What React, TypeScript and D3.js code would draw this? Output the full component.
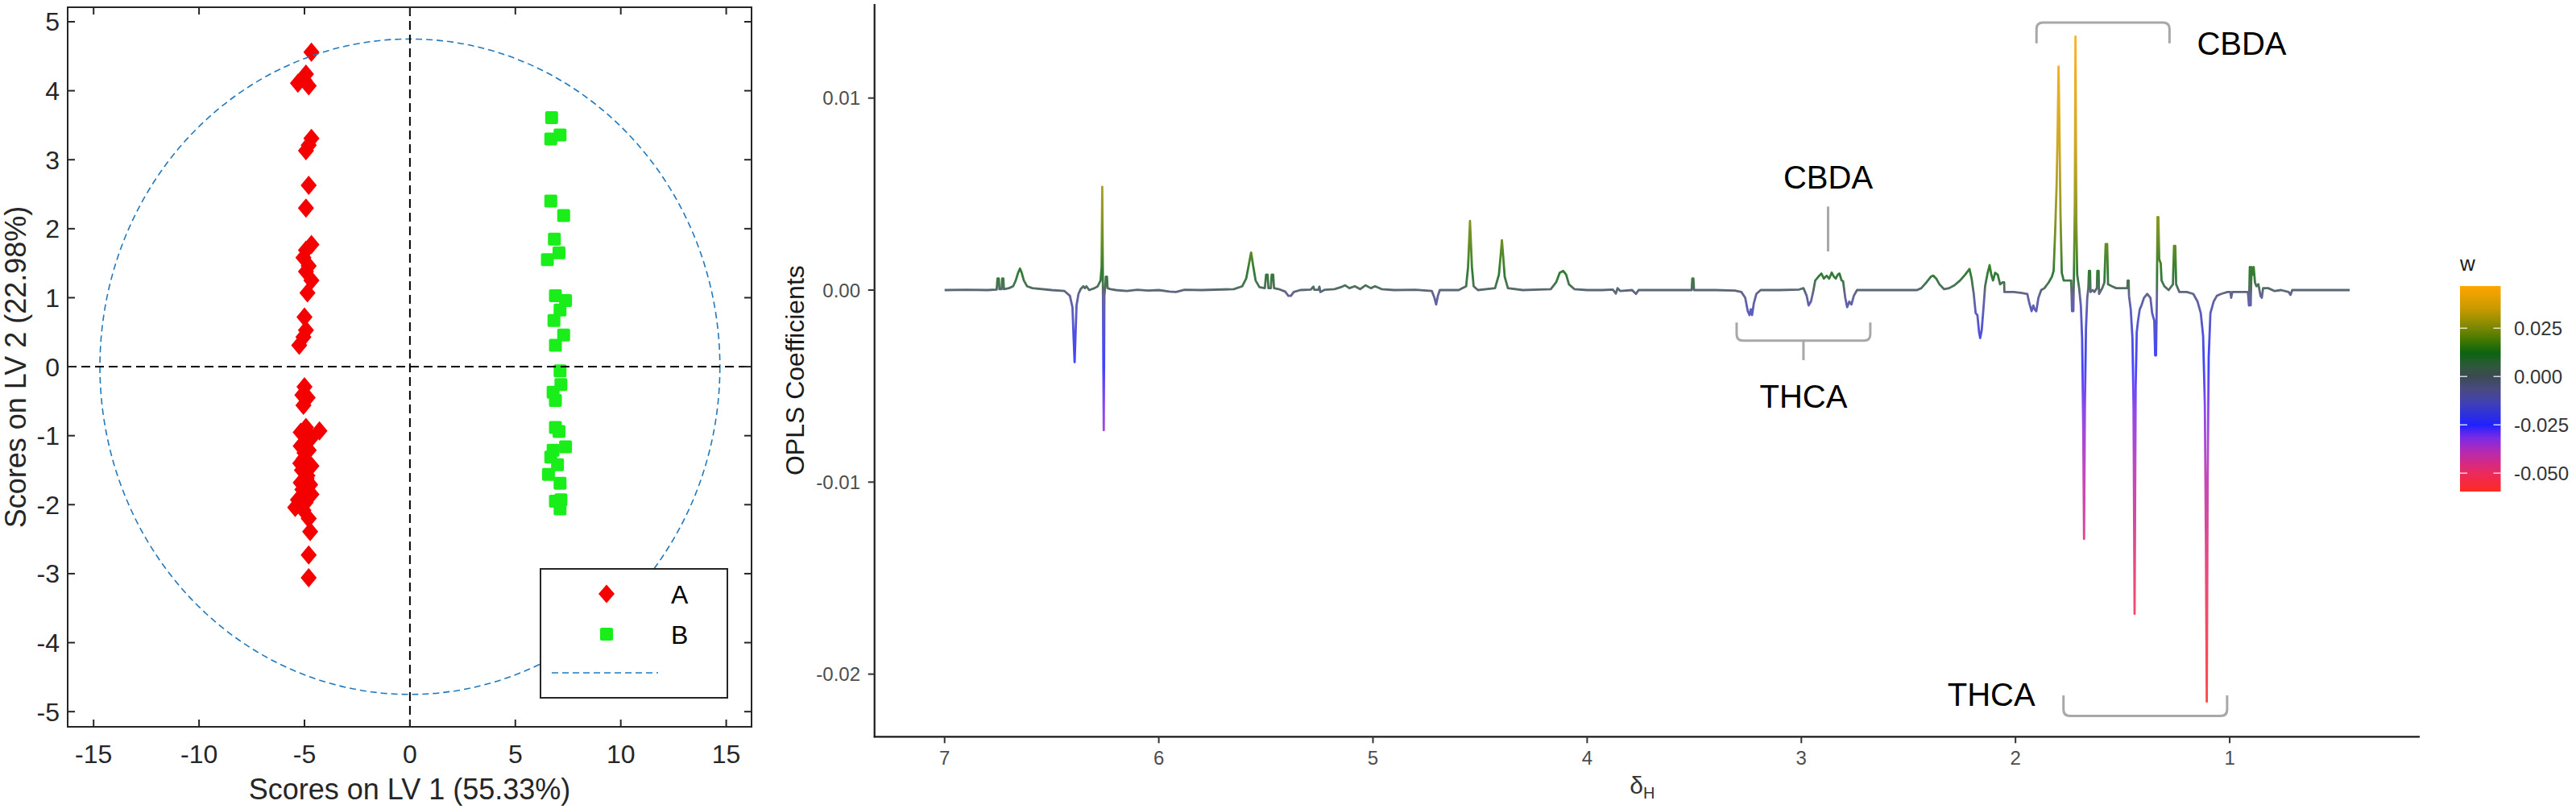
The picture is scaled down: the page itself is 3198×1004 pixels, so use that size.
import React from 'react';
import * as d3 from 'd3';

const FONT = "'Liberation Sans', Arial, Helvetica, sans-serif";

// ---------- Left panel: scores ----------
const scoresAx = [-4.67,-4.93,-5.31,-4.8,-5.0,-4.67,-4.8,-4.93,-4.8,-4.93,-4.67,-4.93,-5.05,-4.8,-4.93,-4.67,-4.86,-5.0,-4.93,-5.05,-5.25,-5.0,-5.1,-5.05,-4.93,-4.29,-5.18,-4.67,-5.18,-4.8,-5.05,-4.67,-5.12,-4.86,-5.18,-4.73,-5.0,-4.67,-5.31,-5.44,-5.05,-4.8,-4.73,-4.8,-4.8,-4.95,-5.0,-4.9,-5.1,-4.95,-5.2,-4.85];
const scoresAy = [4.56,4.24,4.11,4.07,4.15,3.31,3.21,3.13,2.63,2.30,1.77,1.69,1.58,1.46,1.38,1.25,1.07,0.72,0.53,0.43,0.31,-0.29,-0.41,-0.56,-0.88,-0.93,-0.95,-1.03,-1.15,-1.21,-1.34,-1.44,-1.50,-1.58,-1.68,-1.71,-1.81,-1.85,-1.93,-2.04,-2.08,-2.20,-2.39,-2.73,-3.06,-1.0,-1.25,-1.62,-1.78,-1.97,-1.4,-0.45];
const scoresBx = [6.72,6.68,7.12,6.68,7.29,6.85,7.07,6.52,6.90,7.38,7.12,6.83,7.29,6.90,7.12,7.16,6.79,6.90,6.90,7.07,7.38,6.79,6.68,7.0,6.57,7.12,7.16,6.9,7.12];
const scoresBy = [3.61,3.30,3.36,2.40,2.19,1.85,1.65,1.55,1.03,0.96,0.82,0.67,0.46,0.31,-0.06,-0.26,-0.37,-0.49,-0.88,-0.94,-1.16,-1.21,-1.31,-1.42,-1.56,-1.69,-1.93,-1.95,-2.06];
const scoreXTicks = [-15, -10, -5, 0, 5, 10, 15];
const scoreYTicks = [5, 4, 3, 2, 1, 0, -1, -2, -3, -4, -5];
const ellipseRadii = [14.7, 4.75];
const legendLabels = ['A', 'B'];

// ---------- Right panel: OPLS coefficients ----------
const shifts = [7.000,6.900,6.800,6.757,6.753,6.747,6.744,6.734,6.731,6.726,6.723,6.700,6.680,6.668,6.657,6.648,6.640,6.630,6.615,6.590,6.500,6.440,6.415,6.403,6.398,6.393,6.389,6.384,6.375,6.365,6.352,6.345,6.338,6.325,6.300,6.285,6.272,6.267,6.264,6.261,6.257,6.254,6.250,6.247,6.242,6.239,6.225,6.200,6.150,6.100,6.050,6.000,5.950,5.920,5.880,5.800,5.650,5.610,5.592,5.580,5.569,5.560,5.548,5.530,5.505,5.499,5.492,5.488,5.477,5.473,5.466,5.462,5.440,5.410,5.395,5.383,5.370,5.340,5.290,5.278,5.274,5.255,5.250,5.246,5.225,5.180,5.150,5.130,5.110,5.085,5.060,5.035,5.010,4.990,4.960,4.900,4.800,4.725,4.713,4.705,4.697,4.688,4.600,4.565,4.556,4.550,4.547,4.544,4.538,4.530,4.510,4.430,4.412,4.403,4.398,4.393,4.385,4.370,4.300,4.170,4.145,4.128,4.112,4.098,4.085,4.060,4.000,3.930,3.880,3.866,3.858,3.845,3.790,3.772,3.760,3.600,3.512,3.509,3.504,3.501,3.400,3.310,3.280,3.262,3.250,3.242,3.236,3.230,3.222,3.210,3.190,3.100,3.010,2.990,2.975,2.966,2.955,2.945,2.935,2.920,2.906,2.895,2.882,2.870,2.858,2.848,2.839,2.830,2.822,2.812,2.805,2.795,2.786,2.776,2.766,2.755,2.740,2.600,2.460,2.440,2.416,2.395,2.384,2.370,2.355,2.334,2.310,2.285,2.259,2.235,2.215,2.205,2.195,2.186,2.178,2.170,2.165,2.158,2.150,2.142,2.130,2.121,2.113,2.105,2.095,2.083,2.072,2.060,2.053,2.052,2.030,2.008,1.970,1.945,1.935,1.925,1.917,1.911,1.903,1.893,1.880,1.865,1.845,1.830,1.822,1.815,1.808,1.803,1.799,1.795,1.790,1.784,1.775,1.758,1.740,1.736,1.730,1.727,1.723,1.720,1.716,1.712,1.703,1.695,1.689,1.684,1.680,1.676,1.671,1.665,1.660,1.657,1.652,1.650,1.640,1.632,1.620,1.618,1.612,1.610,1.595,1.585,1.579,1.572,1.568,1.550,1.530,1.505,1.478,1.476,1.472,1.470,1.462,1.454,1.449,1.444,1.439,1.434,1.428,1.420,1.412,1.400,1.385,1.370,1.362,1.352,1.348,1.344,1.340,1.337,1.333,1.329,1.322,1.318,1.305,1.285,1.265,1.260,1.254,1.250,1.235,1.200,1.170,1.150,1.135,1.124,1.116,1.111,1.107,1.103,1.098,1.090,1.075,1.060,1.040,1.010,0.997,0.993,0.988,0.960,0.930,0.915,0.910,0.906,0.902,0.898,0.893,0.888,0.882,0.875,0.866,0.856,0.850,0.844,0.820,0.790,0.760,0.725,0.716,0.708,0.650,0.440];
const coefs = [0,0.00002,0,0.00003,0.0006,0.0006,0.00005,0.00005,0.0006,0.0006,0.00005,0.0001,0.0002,0.0005,0.0009,0.00112,0.0009,0.0005,0.0002,0.0001,0,-0.00005,-0.0003,-0.0009,-0.0024,-0.00375,-0.0024,-0.0008,-0.0002,0.00005,0.0002,0.0001,0.0002,0,0.0001,0.0002,0.0005,0.0012,0.00538,0.0004,-0.0073,-0.0003,0.0002,0.0007,0.0007,0.0001,0.00005,0,-0.00005,0.00002,-0.00003,0,-0.00008,-0.0001,0.00002,0,0.00005,0.0002,0.0006,0.0013,0.00196,0.0013,0.0005,0.00015,0.0001,0.0008,0.0008,0.0001,0.0001,0.0008,0.0008,0.0001,0.00005,-0.00008,-0.0003,-0.0003,-0.0001,0,0.00003,0.00018,0.00002,0.00002,0.00018,-0.0001,0.00002,0.00005,0.00015,0.00025,0.0001,0.0002,0.00005,0.00025,0.0001,0.0002,0.00005,0,0.00002,-0.00005,-0.0004,-0.00075,-0.0003,0,0,0.0002,0.0012,0.0028,0.0036,0.0028,0.0012,0.0002,0,0.0001,0.0008,0.0019,0.0026,0.0019,0.0007,0.0001,0,0.00005,0.0004,0.0009,0.001,0.0008,0.0003,0.00005,0,0,0.00003,-0.00018,0.0001,-0.00005,0,-0.0002,0,0,0,0.0006,0.0006,0,0,-0.00003,-0.0001,-0.0004,-0.0011,-0.0013,-0.001,-0.0013,-0.0007,-0.0002,0,0,0.00003,0.0001,-0.0003,-0.0008,-0.0006,-0.0001,0.0005,0.0007,0.00086,0.0006,0.00075,0.0006,0.00091,0.0007,0.0006,0.0008,0.00086,0.0005,0.00046,-0.0004,-0.00089,-0.0006,-0.00075,-0.0003,0,0,0,0.0001,0.0004,0.0007,0.00075,0.0006,0.0003,0.00005,0.0001,0.00025,0.0005,0.0008,0.0011,0.0006,-0.0002,-0.0012,-0.0013,-0.0022,-0.0025,-0.0021,-0.001,0.0002,0.0009,0.0013,0.0008,0.0005,0.0009,0.0008,0.0003,0.0004,0.0004,-0.0001,-0.0001,-0.0001,-0.00015,-0.0002,-0.0007,-0.0011,-0.0008,-0.001,-0.0011,-0.0004,0,0.0001,0.0004,0.0007,0.001,0.003,0.0055,0.0085,0.01164,0.0085,0.004,0.0009,0.0005,0.0005,0.0005,-0.0011,-0.0011,0.001,0.0045,0.0132,0.0035,0.0008,0.0001,-0.0008,-0.0025,-0.007,-0.01296,-0.006,-0.002,-0.0004,0.0001,0.001,0.001,-0.0001,0,-0.0001,0.0001,0.001,0.001,-0.0002,0.0001,0.0004,0.0024,0.0024,0.0003,0.0002,0.0001,0.0001,0.0001,0.0005,0.0005,-0.0003,-0.001,-0.0025,-0.006,-0.01686,-0.005,-0.0022,-0.0016,-0.001,-0.0008,-0.0004,-0.0002,-0.0004,-0.0012,-0.0016,-0.0034,-0.0034,-0.0004,0.0038,0.0038,0.0016,0.0014,0.0005,0.0002,0,0.0003,0.0023,0.0023,0.0003,-0.0001,-0.0001,-0.0002,-0.0006,-0.0012,-0.0024,-0.006,-0.013,-0.02143,-0.01,-0.0035,-0.0012,-0.0006,-0.0003,-0.0002,-0.0001,-0.0001,-0.0004,-0.0001,-0.0001,-0.0001,-0.0001,-0.0008,0.0012,-0.0008,0.0012,0.0008,0.0012,0.0004,0.0002,0.0003,-0.0003,-0.0004,0.0001,0.0001,-0.00005,0,-0.0001,-0.00025,0,0,0];
const shiftTicks = [7, 6, 5, 4, 3, 2, 1];
const coefTicks = [0.01, 0, -0.01, -0.02];
const coefTickLabels = ['0.01', '0.00', '-0.01', '-0.02'];
const wTicks = [0.025, 0, -0.025, -0.05];
const wTickLabels = ['0.025', '0.000', '-0.025', '-0.050'];
const wStops = [-0.0595, -0.05, -0.0386, -0.0317, -0.025, -0.0136, -0.0067, 0, 0.006, 0.0122, 0.0197, 0.025, 0.035, 0.0468];
const wColors = ['#ff2a22', '#ec2a5c', '#b42ab4', '#7a2ae6', '#1f22ff', '#4040b4', '#4a4a82', '#3c4a52', '#2c5a3a', '#0b640f', '#4a7a00', '#7a8600', '#c89a00', '#ffa500'];

// annotations (data coords of right panel)
const cbdaTopBracket = [1.902, 1.281, 0.01393, 0.01285];
const cbdaMidLabel = [2.875, 0.00529, 0.00435, 0.00201];
const thcaMidBracket = [3.302, 2.678, -0.00263, -0.00169, 2.99, -0.00365, -0.00613];
const thcaLowBracket = [1.776, 1.012, -0.02218, -0.02111];

export default function App() {
  // ---- left scales ----
  const L = { x0: 84, x1: 933, y0: 9, y1: 902 };
  const sx = d3.scaleLinear().domain([-16.23, 16.2]).range([L.x0, L.x1]);
  const sy = d3.scaleLinear().domain([-5.22, 5.21]).range([L.y1, L.y0]);
  const tickLen = 9;
  const red = '#f50000';
  const green = '#1aee1a';
  const ellColor = '#2179bd';

  const diamond = (cx: number, cy: number, hw = 10, hh = 12) =>
    `M${cx},${cy - hh}L${cx + hw},${cy}L${cx},${cy + hh}L${cx - hw},${cy}Z`;

  // ---- right scales ----
  const R = { x0: 1085.7, x1: 3004, y0: 5, y1: 914.3 };
  const rx = d3.scaleLinear().domain([7.3272, 0.1127]).range([R.x0, R.x1]);
  const ry = d3.scaleLinear().domain([-0.02326, 0.014897]).range([R.y1, R.y0]);
  const wColor = d3.scaleLinear<string>().domain(wStops).range(wColors).interpolate(d3.interpolateRgb).clamp(true);
  const wOf = (c: number) => Math.sign(c) * 0.4 * Math.sqrt(Math.abs(c));

  const lineGen = d3.line<number>().x((_, i) => rx(shifts[i])).y((c) => ry(c));
  const specPath = lineGen(coefs) || '';

  // gradient stops (line color depends on value)
  const cDom = ry.domain();
  const nS = 240;
  const lineStops = d3.range(nS + 1).map((i) => {
    const c = cDom[1] - (cDom[1] - cDom[0]) * (i / nS);
    return { off: (ry(c) - R.y0) / (R.y1 - R.y0), col: wColor(wOf(c)) };
  });

  // colorbar
  const CB = { x0: 3054, x1: 3104.5, y0: 355, y1: 610 };
  const cy = d3.scaleLinear().domain([wStops[0], wStops[wStops.length - 1]]).range([CB.y1, CB.y0]);
  const cbStops = wStops
    .map((w, i) => ({ off: (cy(w) - CB.y0) / (CB.y1 - CB.y0), col: wColors[i] }))
    .reverse();

  const bracket = (xa: number, xb: number, yLine: number, yHook: number, r = 8) => {
    const s = Math.sign(yHook - yLine);
    return `M${xa},${yHook}L${xa},${yLine + s * r}Q${xa},${yLine} ${xa + r},${yLine}L${xb - r},${yLine}Q${xb},${yLine} ${xb},${yLine + s * r}L${xb},${yHook}`;
  };
  const annColor = '#a8a8a8';

  return (
    <svg width={3198} height={1004} style={{ position: 'absolute', left: 0, top: 0, display: 'block', background: '#fff' }} fontFamily={FONT}>
      <rect x={0} y={0} width={3198} height={1004} fill="#fff" />
      {/* ================= LEFT PANEL ================= */}
      <g>
        {scoresAx.map((x, i) => (
          <path key={'a' + i} d={diamond(sx(x), sy(scoresAy[i]))} fill={red} />
        ))}
        {scoresBx.map((x, i) => (
          <rect key={'b' + i} x={sx(x) - 8} y={sy(scoresBy[i]) - 8} width={16} height={16} rx={2} fill={green} />
        ))}
        <ellipse cx={sx(0)} cy={sy(0)} rx={sx(ellipseRadii[0]) - sx(0)} ry={sy(0) - sy(ellipseRadii[1])}
          fill="none" stroke={ellColor} strokeWidth={1.6} strokeDasharray="8 5" />
        <line x1={L.x0} x2={L.x1} y1={sy(0)} y2={sy(0)} stroke="#000" strokeWidth={2} strokeDasharray="11 6" />
        <line x1={sx(0)} x2={sx(0)} y1={L.y0} y2={L.y1} stroke="#000" strokeWidth={2} strokeDasharray="11 6" />
        <rect x={L.x0} y={L.y0} width={L.x1 - L.x0} height={L.y1 - L.y0} fill="none" stroke="#262626" strokeWidth={2} />
        {scoreXTicks.map((t) => (
          <g key={'xt' + t}>
            <line x1={sx(t)} x2={sx(t)} y1={L.y1} y2={L.y1 - tickLen} stroke="#262626" strokeWidth={2} />
            <line x1={sx(t)} x2={sx(t)} y1={L.y0} y2={L.y0 + tickLen} stroke="#262626" strokeWidth={2} />
            <text x={sx(t)} y={947} textAnchor="middle" fontSize={32} fill="#262626">{t}</text>
          </g>
        ))}
        {scoreYTicks.map((t) => (
          <g key={'yt' + t}>
            <line x1={L.x0} x2={L.x0 + tickLen} y1={sy(t)} y2={sy(t)} stroke="#262626" strokeWidth={2} />
            <line x1={L.x1} x2={L.x1 - tickLen} y1={sy(t)} y2={sy(t)} stroke="#262626" strokeWidth={2} />
            <text x={74} y={sy(t)} dy="0.36em" textAnchor="end" fontSize={32} fill="#262626">{t}</text>
          </g>
        ))}
        <text x={(L.x0 + L.x1) / 2} y={992} textAnchor="middle" fontSize={36} fill="#262626">Scores on LV 1 (55.33%)</text>
        <text transform={`translate(32,${(L.y0 + L.y1) / 2}) rotate(-90)`} textAnchor="middle" fontSize={36} fill="#262626">Scores on LV 2 (22.98%)</text>
        <rect x={671} y={706} width={232} height={160} fill="#fff" stroke="#262626" strokeWidth={2} />
        <path d={diamond(753, 737, 10, 11.5)} fill={red} />
        <text x={833} y={737} dy="0.36em" fontSize={32} fill="#000">{legendLabels[0]}</text>
        <rect x={745} y={779} width={16} height={16} rx={2} fill={green} />
        <text x={833} y={787} dy="0.36em" fontSize={32} fill="#000">{legendLabels[1]}</text>
        <line x1={685} x2={817} y1={835} y2={835} stroke={ellColor} strokeWidth={1.6} strokeDasharray="8 5" />
      </g>

      {/* ================= RIGHT PANEL ================= */}
      <defs>
        <linearGradient id="specGrad" gradientUnits="userSpaceOnUse" x1={0} x2={0} y1={R.y0} y2={R.y1}>
          {lineStops.map((s, i) => <stop key={i} offset={s.off} stopColor={s.col} />)}
        </linearGradient>
        <linearGradient id="cbGrad" gradientUnits="userSpaceOnUse" x1={0} x2={0} y1={CB.y0} y2={CB.y1}>
          {cbStops.map((s, i) => <stop key={i} offset={s.off} stopColor={s.col} />)}
        </linearGradient>
      </defs>
      <g>
        <path d={specPath} fill="none" stroke="url(#specGrad)" strokeWidth={2.8} strokeOpacity={0.85} strokeLinejoin="round" />
        <line x1={R.x0} x2={R.x0} y1={R.y0} y2={R.y1 + 1} stroke="#1a1a1a" strokeWidth={2.2} />
        <line x1={R.x0 - 1} x2={R.x1} y1={R.y1} y2={R.y1} stroke="#1a1a1a" strokeWidth={2.2} />
        {coefTicks.map((t, i) => (
          <g key={'ct' + i}>
            <line x1={R.x0 - 8} x2={R.x0} y1={ry(t)} y2={ry(t)} stroke="#333" strokeWidth={2} />
            <text x={1068} y={ry(t)} dy="0.36em" textAnchor="end" fontSize={24} fill="#4d4d4d">{coefTickLabels[i]}</text>
          </g>
        ))}
        {shiftTicks.map((t) => (
          <g key={'st' + t}>
            <line x1={rx(t)} x2={rx(t)} y1={R.y1} y2={R.y1 + 8} stroke="#333" strokeWidth={2} />
            <text x={rx(t)} y={949} textAnchor="middle" fontSize={24} fill="#4d4d4d">{t}</text>
          </g>
        ))}
        <text transform={`translate(998,${(R.y0 + R.y1) / 2}) rotate(-90)`} textAnchor="middle" fontSize={32} fill="#1a1a1a">OPLS Coefficients</text>
        <text x={(R.x0 + R.x1) / 2 - 6} y={985} textAnchor="middle" fontSize={30} fill="#333">
          δ<tspan fontSize={20} dy={6}>H</tspan>
        </text>

        <path d={bracket(rx(cbdaTopBracket[0]), rx(cbdaTopBracket[1]), ry(cbdaTopBracket[2]), ry(cbdaTopBracket[3]))}
          fill="none" stroke={annColor} strokeWidth={3} />
        <text x={rx(1.153)} y={ry(0.01227)} fontSize={40} fill="#000">CBDA</text>

        <text x={rx(cbdaMidLabel[0])} y={ry(cbdaMidLabel[1])} textAnchor="middle" fontSize={40} fill="#000">CBDA</text>
        <line x1={rx(cbdaMidLabel[0])} x2={rx(cbdaMidLabel[0])} y1={ry(cbdaMidLabel[2])} y2={ry(cbdaMidLabel[3])} stroke={annColor} strokeWidth={3} />

        <path d={bracket(rx(thcaMidBracket[0]), rx(thcaMidBracket[1]), ry(thcaMidBracket[2]), ry(thcaMidBracket[3]))}
          fill="none" stroke={annColor} strokeWidth={3} />
        <line x1={rx(thcaMidBracket[4])} x2={rx(thcaMidBracket[4])} y1={ry(thcaMidBracket[2])} y2={ry(thcaMidBracket[5])} stroke={annColor} strokeWidth={3} />
        <text x={rx(thcaMidBracket[4])} y={ry(thcaMidBracket[6])} textAnchor="middle" fontSize={40} fill="#000">THCA</text>

        <path d={bracket(rx(thcaLowBracket[0]), rx(thcaLowBracket[1]), ry(thcaLowBracket[2]), ry(thcaLowBracket[3]))}
          fill="none" stroke={annColor} strokeWidth={3} />
        <text x={rx(1.908)} y={ry(-0.02165)} textAnchor="end" fontSize={40} fill="#000">THCA</text>

        <text x={CB.x0} y={336} fontSize={26} fill="#1a1a1a">w</text>
        <rect x={CB.x0} y={CB.y0} width={CB.x1 - CB.x0} height={CB.y1 - CB.y0} fill="url(#cbGrad)" />
        {wTicks.map((t, i) => (
          <g key={'wt' + i}>
            <line x1={CB.x0} x2={CB.x0 + 9} y1={cy(t)} y2={cy(t)} stroke="#fff" strokeWidth={1.5} strokeOpacity={0.8} />
            <line x1={CB.x1 - 9} x2={CB.x1} y1={cy(t)} y2={cy(t)} stroke="#fff" strokeWidth={1.5} strokeOpacity={0.8} />
            <text x={3121} y={cy(t)} dy="0.36em" fontSize={24} fill="#333">{wTickLabels[i]}</text>
          </g>
        ))}
      </g>
    </svg>
  );
}
